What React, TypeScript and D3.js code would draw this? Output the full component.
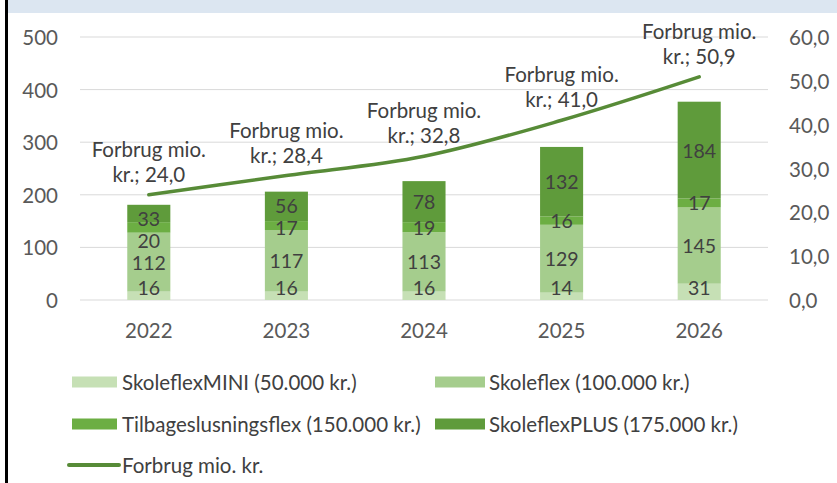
import React from "react";
import * as d3 from "d3";

const years = ["2022", "2023", "2024", "2025", "2026"];
const miniValues = [16, 16, 16, 14, 31];
const skoleflexValues = [112, 117, 113, 129, 145];
const tilbageValues = [20, 17, 19, 16, 17];
const plusValues = [33, 56, 78, 132, 184];
const forbrugValues = [24.0, 28.4, 32.8, 41.0, 50.9];
const leftTicks = [0, 100, 200, 300, 400, 500];
const rightTicks = [0, 10, 20, 30, 40, 50, 60];

const seriesNames = [
  "SkoleflexMINI (50.000 kr.)",
  "Skoleflex (100.000 kr.)",
  "Tilbageslusningsflex (150.000 kr.)",
  "SkoleflexPLUS (175.000 kr.)",
];
const lineName = "Forbrug mio. kr.";
const seriesColors = ["#c6e0b5", "#a5cd8d", "#6cae43", "#5f9b3b"];
const lineColor = "#578b37";

const W = 837;
const H = 483;
const FONT = "Lato, 'Open Sans', sans-serif";

export default function App() {
  const x = d3.scaleBand<string>().domain(years).range([80, 768]).paddingInner(0.687).paddingOuter(0.3435);
  const yL = d3.scaleLinear().domain([0, 500]).range([300, 37]);
  const yR = d3.scaleLinear().domain([0, 60]).range([300, 37]);

  const allSeries = [miniValues, skoleflexValues, tilbageValues, plusValues];
  const stackData = years.map((yr, i) => {
    const o: any = { year: yr };
    allSeries.forEach((s, k) => (o["s" + k] = s[i]));
    return o;
  });
  const stack = d3.stack<any>().keys(["s0", "s1", "s2", "s3"]);
  const stacked = stack(stackData);

  // label layout per bar: segment centres, then resolve overlaps
  const labelPos: number[][] = years.map((_, i) => {
    const bottom = yL(0);
    const top = yL(stacked[3][i][1]);
    const ys = stacked.map((s) => (yL(s[i][0]) + yL(s[i][1])) / 2);
    const gap = 22;
    ys[0] = Math.min(ys[0], bottom - 13);
    for (let k = 1; k < ys.length; k++) {
      if (ys[k - 1] - ys[k] < gap) ys[k] = ys[k - 1] - gap;
    }
    if (ys[3] < top + 14) {
      ys[3] = top + 14;
      for (let k = 2; k >= 0; k--) if (ys[k] - ys[k + 1] < gap) ys[k] = ys[k + 1] + gap;
    }
    return ys;
  });

  const line = d3
    .line<number>()
    .x((_, i) => (x(years[i]) as number) + x.bandwidth() / 2)
    .y((d) => yR(d))
    .curve(d3.curveMonotoneX);

  const bw = x.bandwidth();
  const tickFs = 20.5;
  const labelFs = 19.5;
  const lineLabelFs = 20.5;
  const legendFs = 20.5;

  return (
    <svg width={W} height={H} style={{ position: "absolute", left: 0, top: 0, background: "#fff" }} fontFamily={FONT}>
      <rect x={0} y={0} width={W} height={H} fill="#fff" />
      <rect x={8} y={0} width={W - 8} height={13} fill="#dce6f1" />
      <rect x={5} y={0} width={3} height={H} fill="#000" />

      {/* gridlines */}
      {leftTicks.map((t) => (
        <line key={t} x1={80} x2={768} y1={yL(t)} y2={yL(t)} stroke="#d9d9d9" strokeWidth={1} />
      ))}
      {leftTicks.map((t) => (
        <text key={"l" + t} x={58} y={yL(t)} textAnchor="end" dominantBaseline="central" fontSize={tickFs} fill="#595959">
          {t}
        </text>
      ))}
      {rightTicks.map((t) => (
        <text key={"r" + t} x={789} y={yR(t)} textAnchor="start" dominantBaseline="central" fontSize={tickFs} fill="#595959">
          {d3.format(".1f")(t).replace(".", ",")}
        </text>
      ))}
      {years.map((yr) => (
        <text key={"c" + yr} x={(x(yr) as number) + bw / 2} y={330} textAnchor="middle" dominantBaseline="central" fontSize={tickFs} fill="#595959">
          {yr}
        </text>
      ))}

      {/* bars */}
      {stacked.map((s, k) =>
        s.map((d, i) => (
          <rect
            key={k + "-" + i}
            x={x(years[i]) as number}
            y={yL(d[1])}
            width={bw}
            height={yL(d[0]) - yL(d[1])}
            fill={seriesColors[k]}
          />
        ))
      )}
      {stacked.map((s, k) =>
        s.map((d, i) => (
          <text
            key={"t" + k + "-" + i}
            x={(x(years[i]) as number) + bw / 2}
            y={labelPos[i][k]}
            textAnchor="middle"
            dominantBaseline="central"
            fontSize={labelFs}
            fill="#404040"
          >
            {allSeries[k][i]}
          </text>
        ))
      )}

      {/* line */}
      <path d={line(forbrugValues) || ""} fill="none" stroke={lineColor} strokeWidth={3.5} strokeLinecap="round" />
      {forbrugValues.map((v, i) => {
        const cx = (x(years[i]) as number) + bw / 2;
        const cy = yR(v);
        return (
          <g key={"fl" + i}>
            <text x={cx} y={cy - 46} textAnchor="middle" dominantBaseline="central" fontSize={lineLabelFs} fill="#404040">
              Forbrug mio.
            </text>
            <text x={cx} y={cy - 21} textAnchor="middle" dominantBaseline="central" fontSize={lineLabelFs} fill="#404040">
              {"kr.; " + d3.format(".1f")(v).replace(".", ",")}
            </text>
          </g>
        );
      })}

      {/* legend */}
      {seriesNames.map((name, k) => {
        const col = k % 2;
        const row = Math.floor(k / 2);
        const sx = col === 0 ? 72 : 435;
        const sy = 382 + row * 42;
        return (
          <g key={"lg" + k}>
            <rect x={sx} y={sy - 5.5} width={col === 0 ? 45 : 50} height={11} fill={seriesColors[k]} />
            <text x={sx + (col === 0 ? 50 : 54)} y={sy} dominantBaseline="central" fontSize={legendFs} fill="#404040">
              {name}
            </text>
          </g>
        );
      })}
      <line x1={69} x2={119} y1={465} y2={465} stroke={lineColor} strokeWidth={4} strokeLinecap="round" />
      <text x={122} y={465} dominantBaseline="central" fontSize={legendFs} fill="#404040">
        {lineName}
      </text>
    </svg>
  );
}
